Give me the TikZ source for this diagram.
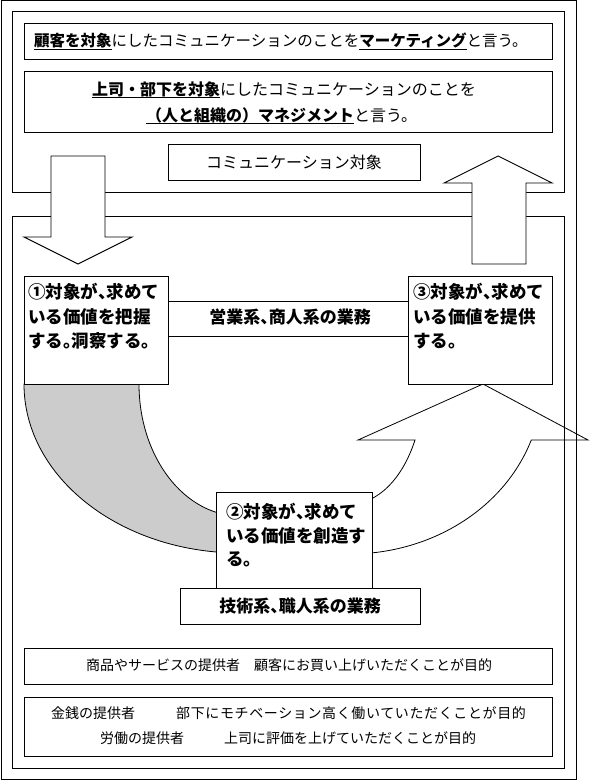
\documentclass[tikz,border=0pt]{standalone}
\usepackage{fontspec}
\setmainfont{Noto Sans CJK JP}
\definecolor{arcgray}{RGB}{204,204,204}
\newsavebox\ulbox
\newcommand\ulx[1]{\sbox\ulbox{#1}\rlap{\rule[-0.17em]{\wd\ulbox}{0.9pt}}\usebox\ulbox}
\newcommand\hw[1]{{\addfontfeature{RawFeature=+halt}#1}}
\newcommand\fsz[1]{\fontsize{#1}{#1}\selectfont}
\begin{document}
\begin{tikzpicture}[x=1pt,y=-1pt,
  box/.style={draw,line width=1pt,fill=white,inner sep=0pt,rectangle},
  txt/.style={inner sep=0pt,anchor=base west},
  ctxt/.style={inner sep=0pt,anchor=base},
  blockarrow/.style={draw,line width=0.9pt,fill=white,line join=miter},
  thinline/.style={draw,line width=0.8pt}]
\useasboundingbox (0,0) rectangle (604,781);
% containers
\node[box,minimum width=575pt,minimum height=778pt] (outer) at (288.5,390) {};
\node[box,minimum width=552pt,minimum height=180pt] (topc) at (288,102) {};
\node[box,minimum width=552pt,minimum height=552pt] (lowc) at (288,492) {};
% top boxes
\node[box,minimum width=528pt,minimum height=36pt] (mk) at (288,42) {};
\node[box,minimum width=528pt,minimum height=60pt] (mg) at (288,102) {};
\node[box,minimum width=252pt,minimum height=36pt] (comm) at (294,162) {};
% block arrows
\draw[blockarrow] (51,156) -- (105,156) -- (105,237) -- (132,237) -- (78,264) -- (24,237) -- (51,237) -- cycle;
\draw[blockarrow] (498,156) -- (552,183) -- (526,183) -- (526,264) -- (472,264) -- (472,183) -- (444,183) -- cycle;
% gray block arc
\draw[thinline,fill=arcgray] (24,384) arc[start angle=180,end angle=90,x radius=216,y radius=169]
  -- (240,516) arc[start angle=90,end angle=180,x radius=101,y radius=132] -- cycle;
% curved up arrow (no fill)
\draw[thinline] (350,554) arc[start angle=90,end angle=19.2,x radius=192,y radius=170]
  -- (588,440) -- (483,384) -- (358,440) -- (415,440)
  arc[start angle=27.8,end angle=90,x radius=73.5,y radius=120] -- cycle;
% step boxes
\node[box,minimum width=144pt,minimum height=108pt] (s1) at (96,330) {};
\node[box,minimum width=144pt,minimum height=108pt] (s3) at (480,330) {};
\node[box,minimum width=156pt,minimum height=98pt] (s2) at (294,541) {};
\node[box,minimum width=240pt,minimum height=36pt] (tech) at (300,606) {};
\draw[line width=1pt] ([yshift=29pt]s1.east) -- ([yshift=29pt]s3.west);
\draw[line width=1pt] ([yshift=-6pt]s1.east) -- ([yshift=-6pt]s3.west);
% bottom boxes
\node[box,minimum width=528pt,minimum height=36pt] (goods) at (288,666) {};
\node[box,minimum width=528pt,minimum height=59pt] (money) at (288,726.5) {};
% texts
\node[txt,font=\fsz{15.5}] (mkt) at (34,46.9) {\ulx{\bfseries 顧客を対象}にしたコミュニケーションのことを\ulx{\bfseries マーケティング}と言う。};
\node[txt,font=\fsz{16}] (mga) at (92,95.1) {\ulx{\bfseries 上司・部下を対象}にしたコミュニケーションのことを};
\node[txt,font=\fsz{16}] (mgb) at (146,121.1) {\ulx{\bfseries （人と組織の）マネジメント}と言う。};
\node[ctxt,font=\fsz{16}] (commt) at (294,168.1) {コミュニケーション対象};
\node[txt,font=\bfseries\fsz{17.5}] (s1a) at (28,298.7) {①対象が\hw{、}求めて};
\node[txt,font=\bfseries\fsz{17.5}] (s1b) at (28,323.2) {いる価値を把握};
\node[txt,font=\bfseries\fsz{17.5}] (s1c) at (28,347.2) {する\hw{。}洞察する\hw{。}};
\node[txt,font=\bfseries\fsz{17.5}] (s3a) at (413,298.7) {③対象が\hw{、}求めて};
\node[txt,font=\bfseries\fsz{17.5}] (s3b) at (413,323.2) {いる価値を提供};
\node[txt,font=\bfseries\fsz{17.5}] (s3c) at (413,347.2) {する\hw{。}};
\node[txt,font=\bfseries\fsz{17.5}] (s2a) at (226,518.7) {②対象が\hw{、}求めて};
\node[txt,font=\bfseries\fsz{17.5}] (s2b) at (226,542.7) {いる価値を創造す};
\node[txt,font=\bfseries\fsz{17.5}] (s2c) at (226,565.7) {る\hw{。}};
\node[ctxt,font=\bfseries\fsz{17}] (sales) at (290,323.5) {営業系\hw{、}商人系の業務};
\node[ctxt,font=\bfseries\fsz{17}] (techt) at (300,612.5) {技術系\hw{、}職人系の業務};
\node[txt,font=\fsz{14}] (goodst) at (86,670.3) {商品やサービスの提供者　顧客にお買い上げいただくことが目的};
\node[txt,font=\fsz{14}] (mona) at (51,718.3) {金銭の提供者};
\node[txt,font=\fsz{14}\addfontfeature{LetterSpace=4.5}] (monb) at (176,718.3) {部下にモチベーション高く働いていただくことが目的};
\node[txt,font=\fsz{14}] (laba) at (100,743.3) {労働の提供者};
\node[txt,font=\fsz{14}] (labb) at (224,743.3) {上司に評価を上げていただくことが目的};
\end{tikzpicture}
\end{document}
